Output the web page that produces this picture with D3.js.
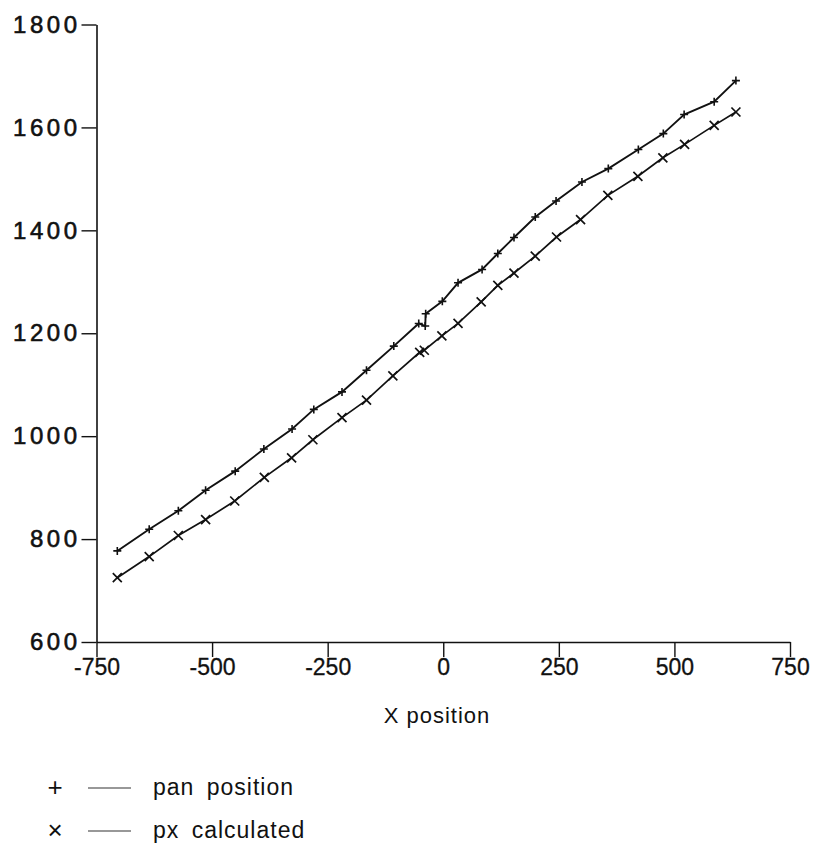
<!DOCTYPE html>
<html>
<head>
<meta charset="utf-8">
<script src="https://cdn.jsdelivr.net/npm/d3@7"></script>
<style>
  html, body { margin: 0; padding: 0; background: #fff; }
  svg { display: block; }
  text { font-family: "Liberation Sans", Arial, Helvetica, sans-serif; fill: #111; }
</style>
</head>
<body>
<script>
// ---- data ----
const panX = [-705, -636, -573, -514, -450, -388, -327, -280, -219, -166, -107, -53, -39, -38, -2, 32, 84, 118, 153, 199, 244, 300, 357, 422, 476, 521, 586, 633];
const panY = [777, 819, 855, 895, 932, 975, 1014, 1052, 1086, 1128, 1175, 1219, 1214, 1238, 1262, 1298, 1324, 1355, 1386, 1426, 1457, 1494, 1520, 1557, 1588, 1625, 1650, 1691];
const pxX  = [-705, -636, -573, -514, -451, -387, -328, -282, -219, -166, -109, -51, -41, -3, 32, 82, 118, 153, 199, 245, 297, 356, 421, 475, 522, 586, 633];
const pxY  = [725, 766, 807, 838, 874, 920, 958, 993, 1036, 1070, 1117, 1163, 1167, 1195, 1219, 1261, 1293, 1317, 1350, 1387, 1421, 1468, 1505, 1541, 1567, 1604, 1630];
const xTicks = [-750, -500, -250, 0, 250, 500, 750];
const yTicks = [600, 800, 1000, 1200, 1400, 1600, 1800];
const xLabel = "X position";
const seriesNames = ["pan position", "px calculated"];

const W = 821, H = 854;
const svg = d3.select("body").append("svg").attr("width", W).attr("height", H);

const x = d3.scaleLinear().domain([-750, 750]).range([96.5, 790]);
const y = d3.scaleLinear().domain([600, 1800]).range([642, 24.5]);

// x axis
const gx = svg.append("g").attr("transform", `translate(0,${y(600)})`)
  .call(d3.axisBottom(x).tickValues(xTicks).tickSize(15).tickPadding(2).tickSizeOuter(0)
        .tickFormat(d3.format("d")));
gx.select(".domain").attr("stroke", "#111").attr("stroke-width", 1.6);
gx.selectAll(".tick line").attr("stroke", "#111").attr("stroke-width", 1.4);
gx.selectAll(".tick text").attr("font-size", 23).attr("fill", "#111")
  .attr("stroke", "#111").attr("stroke-width", 0.3)
  .text(d => d < 0 ? "-" + Math.abs(d) : d);

// y axis
const gy = svg.append("g").attr("transform", `translate(${x(-750)},0)`)
  .call(d3.axisLeft(y).tickValues(yTicks).tickSize(15).tickPadding(1).tickSizeOuter(0)
        .tickFormat(d3.format("d")));
gy.select(".domain").attr("stroke", "#111").attr("stroke-width", 1.6);
gy.selectAll(".tick line").attr("stroke", "#111").attr("stroke-width", 1.4);
gy.selectAll(".tick text").attr("font-size", 24).attr("letter-spacing", 3.5).attr("fill", "#111")
  .attr("stroke", "#111").attr("stroke-width", 0.6);

// lines
const line = d3.line().x(d => x(d[0])).y(d => y(d[1]));
const panData = panX.map((v, i) => [v, panY[i]]);
const pxData = pxX.map((v, i) => [v, pxY[i]]);

svg.append("path").datum(panData).attr("d", line)
  .attr("fill", "none").attr("stroke", "#111").attr("stroke-width", 1.9);
svg.append("path").datum(pxData).attr("d", line)
  .attr("fill", "none").attr("stroke", "#111").attr("stroke-width", 1.7);

// markers
const plus = s => `M${-s},0L${s},0M0,${-s}L0,${s}`;
const cross = s => `M${-s},${-s}L${s},${s}M${-s},${s}L${s},${-s}`;
svg.append("g").selectAll("path").data(panData).join("path")
  .attr("transform", d => `translate(${x(d[0])},${y(d[1])})`)
  .attr("d", plus(4)).attr("stroke", "#111").attr("stroke-width", 1.6);
svg.append("g").selectAll("path").data(pxData).join("path")
  .attr("transform", d => `translate(${x(d[0])},${y(d[1])})`)
  .attr("d", cross(4.5)).attr("stroke", "#111").attr("stroke-width", 1.7);

// x axis title
svg.append("text").attr("x", 437).attr("y", 723).attr("text-anchor", "middle")
  .attr("font-size", 22).attr("letter-spacing", 1).text(xLabel);

// legend
const legY = [788, 831];
const legSym = ["+", "×"];
seriesNames.forEach((name, i) => {
  const g = svg.append("g");
  g.append("text").attr("x", 55).attr("y", legY[i] + 8).attr("text-anchor", "middle")
    .attr("font-size", 26).text(legSym[i]);
  g.append("line").attr("x1", 88).attr("x2", 131).attr("y1", legY[i]).attr("y2", legY[i])
    .attr("stroke", "#333").attr("stroke-width", 1.2);
  g.append("text").attr("x", 153).attr("y", legY[i] + 7)
    .attr("font-size", 23).attr("letter-spacing", 1).attr("word-spacing", 5).text(name);
});
</script>
</body>
</html>
